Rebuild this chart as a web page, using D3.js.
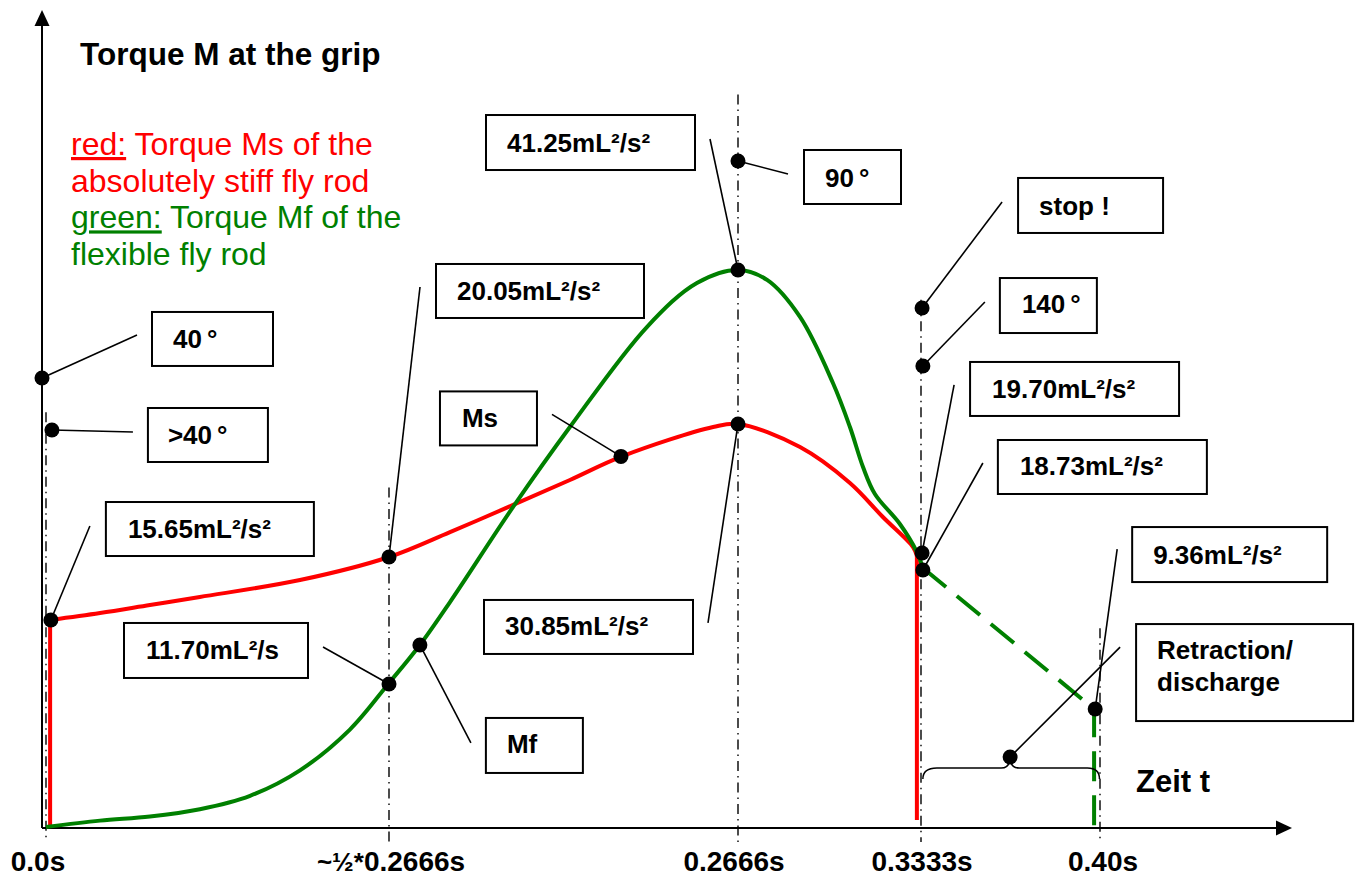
<!DOCTYPE html>
<html><head><meta charset="utf-8">
<script src="https://cdn.jsdelivr.net/npm/d3@7"></script>
<style>
html,body{margin:0;padding:0;background:#fff;}
svg{display:block;font-family:"Liberation Sans",Arial,Helvetica,sans-serif;}
</style>
</head><body>
<svg id="chart" width="1357" height="880"></svg>
<script>
// ---------- data ----------
const tickTimes  = [0, 0.1333, 0.2666, 0.3333, 0.40];
const tickLabels = ["0.0s", "~½*0.2666s", "0.2666s", "0.3333s", "0.40s"];
const guideTopM  = [31.0, 25.4, 54.7, 39.4, 14.9];   // upper end of the dash-dot guide lines (in M units)

// red: torque Ms of the absolutely stiff rod
const redStartT = 0.0016, redStartM = 15.51;
const redT = [0.0016, 0.0210, 0.0404, 0.0598, 0.0987, 0.1333, 0.1566, 0.1807, 0.2024, 0.2223, 0.2571, 0.2666, 0.2892, 0.3074, 0.3194, 0.3304, 0.3318];
const redM = [15.51, 16.03, 16.63, 17.23, 18.49, 20.21, 22.07, 24.09, 25.95, 27.71, 29.90, 30.13, 28.41, 25.73, 23.19, 20.95, 20.28];
const redStopT = 0.3318, redStopEndM = 0.6;

// green: torque Mf of the flexible rod
const greenT = [0, 0.0210, 0.0404, 0.0598, 0.0793, 0.0987, 0.1181, 0.1333, 0.1451, 0.1566, 0.1807, 0.2024, 0.2318, 0.2509, 0.2666, 0.2772, 0.2892, 0.3012, 0.3074, 0.3122, 0.3165, 0.3256, 0.3318, 0.3340];
const greenM = [0.07, 0.55, 0.85, 1.40, 2.40, 4.30, 7.34, 10.81, 13.65, 16.85, 23.94, 29.90, 37.36, 40.64, 41.61, 40.87, 38.11, 33.18, 29.90, 26.90, 24.91, 22.67, 20.58, 19.39];
const greenDashT = [0.3340, 0.3978, 0.3978];
const greenDashM = [19.39, 8.87, 0];

// marked points
const dotT = [-0.0016, 0.0023, 0.0019, 0.1333, 0.1333, 0.1451, 0.2219, 0.2666, 0.2666, 0.2666, 0.3337, 0.3340, 0.3337, 0.3340, 0.3982, 0.3665];
const dotM = [33.56, 29.68, 15.51, 20.21, 10.74, 13.65, 27.71, 49.74, 41.61, 30.13, 38.78, 34.45, 20.51, 19.24, 8.87, 5.29];
const dotLabels = [["40°"], [">40°"], ["15.65mL²/s²"], ["20.05mL²/s²"], ["11.70mL²/s"], ["Mf"], ["Ms"], ["90°"], ["41.25mL²/s²"], ["30.85mL²/s²"], ["stop !"], ["140°"], ["19.70mL²/s²"], ["18.73mL²/s²"], ["9.36mL²/s²"], ["Retraction/", "discharge"]];

// brace span (time) under the retraction phase
const braceT = [0.3340, 0.3665, 0.3998];

const titleText = "Torque M at the grip";
const xAxisTitle = "Zeit t";

// ---------- layout (pixel offsets of the callouts relative to their point) ----------
const callouts = [
  {leader:[95,-43],   box:[110,-66,121,54],  text:[131,-30]},
  {leader:[81,2],     box:[96,-22,120,54],   text:[116,14]},
  {leader:[39,-94],   box:[55,-118,208,54],  text:[77,-82]},
  {leader:[31,-270],  box:[47,-293,208,54],  text:[68,-257]},
  {leader:[-66,-37],  box:[-265,-61,184,55], text:[-243,-25]},
  {leader:[51,98],    box:[66,73,97,55],     text:[87,108]},
  {leader:[-69,-42],  box:[-181,-65,97,54],  text:[-159,-29]},
  {leader:[50,13],    box:[66,-11,97,54],    text:[87,26]},
  {leader:[-28,-131], box:[-252,-155,209,55],text:[-231,-118]},
  {leader:[-30,199],  box:[-254,176,209,54], text:[-233,211]},
  {leader:[80,-106],  box:[96,-130,145,55],  text:[117,-93]},
  {leader:[62,-64],   box:[77,-88,97,55],    text:[99,-53]},
  {leader:[32,-168],  box:[48,-191,209,54],  text:[70,-155]},
  {leader:[60,-107],  box:[75,-130,209,54],  text:[97,-95]},
  {leader:[22,-160],  box:[37,-182,195,55],  text:[58,-145]},
  {leader:[110,-110], box:[126,-133,217,97], text:[147,-98]}
];

const RED = "#ff0000", GREEN = "#008000";
const svg = d3.select("#chart");

const x = d3.scaleLinear().domain(tickTimes).range([46, 389, 738, 921, 1100]);
const y = d3.scaleLinear().domain([0, 61]).range([828, 10]);
const axisX = x(0) - 4;      // vertical axis sits just left of t = 0
const axisEndX = 1292;

// ---------- guide lines ----------
svg.append("g").selectAll("line").data(tickTimes).join("line")
  .attr("x1", d => x(d)).attr("x2", d => x(d))
  .attr("y1", (d,i) => y(guideTopM[i])).attr("y2", y(0) + 14)
  .attr("stroke", "#000").attr("stroke-width", 1.4)
  .attr("stroke-dasharray", "10,5,1.5,5");

// ---------- axes ----------
const ax = svg.append("g");
ax.append("line").attr("x1", axisX).attr("x2", axisX).attr("y1", y(0)).attr("y2", y(61) + 14)
  .attr("stroke", "#000").attr("stroke-width", 2);
ax.append("path").attr("d", `M${axisX},${y(61)} L${axisX-7.5},${y(61)+16} L${axisX+7.5},${y(61)+16} Z`).attr("fill", "#000");
ax.append("line").attr("x1", axisX).attr("x2", axisEndX - 14).attr("y1", y(0)).attr("y2", y(0))
  .attr("stroke", "#000").attr("stroke-width", 2);
ax.append("path").attr("d", `M${axisEndX},${y(0)} L${axisEndX-16},${y(0)-7.5} L${axisEndX-16},${y(0)+7.5} Z`).attr("fill", "#000");

// tick labels
const tickDx = [-8, 2, -4, 1, 3];
const tl = svg.append("g").attr("font-weight", "bold").attr("font-size", 28).attr("fill", "#000");
tickTimes.forEach((t, i) => {
  const txt = tl.append("text").attr("x", x(t) + tickDx[i]).attr("y", 871).attr("text-anchor", "middle");
  const lab = tickLabels[i];
  if (lab.startsWith("~")) {
    txt.append("tspan").attr("font-size", 26).text(lab.slice(0, 3));
    txt.append("tspan").text(lab.slice(3));
  } else {
    txt.text(lab);
  }
});

// ---------- curves ----------
const lineLin = d3.line().x(d => x(d[0])).y(d => y(d[1]));
const lineSmooth = d3.line().x(d => x(d[0])).y(d => y(d[1])).curve(d3.curveCatmullRom.alpha(0.5));

// red
svg.append("path").attr("d", lineLin([[redStartT, 0], [redStartT, redStartM]]))
  .attr("stroke", RED).attr("stroke-width", 4).attr("fill", "none");
svg.append("path").attr("d", lineSmooth(redT.map((t,i) => [t, redM[i]])))
  .attr("stroke", RED).attr("stroke-width", 4).attr("fill", "none").attr("stroke-linejoin", "round");
svg.append("path").attr("d", lineLin([[redStopT, redM[redM.length-1]], [redStopT, redStopEndM]]))
  .attr("stroke", RED).attr("stroke-width", 4).attr("fill", "none");

// green
svg.append("path").attr("d", lineSmooth(greenT.map((t,i) => [t, greenM[i]])))
  .attr("stroke", GREEN).attr("stroke-width", 4).attr("fill", "none");
svg.append("path").attr("d", lineLin(greenDashT.map((t,i) => [t, greenDashM[i]])))
  .attr("stroke", GREEN).attr("stroke-width", 4).attr("fill", "none")
  .attr("stroke-dasharray", "30,14");

// ---------- brace ----------
{
  const x0 = x(braceT[0]), xm = x(braceT[1]), x1 = x(braceT[2]);
  const yt = y(dotM[15]), yh = yt + 11, ye = yt + 22;
  svg.append("path")
    .attr("d", `M${x0},${ye} Q${x0},${yh} ${x0+14},${yh} L${xm-9},${yh} Q${xm},${yh} ${xm},${yt} Q${xm},${yh} ${xm+9},${yh} L${x1-12},${yh} Q${x1},${yh} ${x1},${ye}`)
    .attr("fill", "none").attr("stroke", "#000").attr("stroke-width", 1.5);
}

// ---------- callouts ----------
const cg = svg.append("g");
dotT.forEach((t, i) => {
  const px = (i === 0) ? axisX : x(t);
  const py = y(dotM[i]);
  const c = callouts[i];
  cg.append("line").attr("x1", px).attr("y1", py).attr("x2", px + c.leader[0]).attr("y2", py + c.leader[1])
    .attr("stroke", "#000").attr("stroke-width", 1.6);
  cg.append("rect").attr("x", px + c.box[0]).attr("y", py + c.box[1]).attr("width", c.box[2]).attr("height", c.box[3])
    .attr("fill", "#fff").attr("stroke", "#000").attr("stroke-width", 2);
  dotLabels[i].forEach((line, k) => {
    const txt = cg.append("text").attr("x", px + c.text[0]).attr("y", py + c.text[1] + k * 32)
      .attr("font-size", 26).attr("font-weight", "bold").attr("fill", "#000");
    if (line.endsWith("°")) {
      txt.append("tspan").text(line.slice(0, -1));
      txt.append("tspan").attr("dx", 5).text("°");
    } else {
      txt.text(line);
    }
  });
});
svg.append("g").selectAll("circle").data(dotT).join("circle")
  .attr("cx", (d,i) => i === 0 ? axisX : x(d)).attr("cy", (d,i) => y(dotM[i])).attr("r", 7.5).attr("fill", "#000");

// ---------- titles & legend ----------
svg.append("text").attr("x", 80).attr("y", 65).attr("font-size", 31.5).attr("font-weight", "bold").text(titleText);
svg.append("text").attr("x", 1136).attr("y", 792).attr("font-size", 31).attr("font-weight", "bold").text(xAxisTitle);

const legend = [
  {color: RED,   parts: [["red:", true], [" Torque Ms of the", false]]},
  {color: RED,   parts: [["absolutely stiff fly rod", false]]},
  {color: GREEN, parts: [["green:", true], [" Torque Mf of the", false]]},
  {color: GREEN, parts: [["flexible fly rod", false]]}
];
const lg = svg.append("g").attr("font-size", 32);
legend.forEach((l, i) => {
  const t = lg.append("text").attr("x", 71).attr("y", 155 + i * 36.7).attr("fill", l.color).attr("xml:space", "preserve");
  l.parts.forEach(p => {
    const s = t.append("tspan").text(p[0]);
    if (p[1]) s.attr("text-decoration", "underline");
  });
});
</script>
</body></html>
